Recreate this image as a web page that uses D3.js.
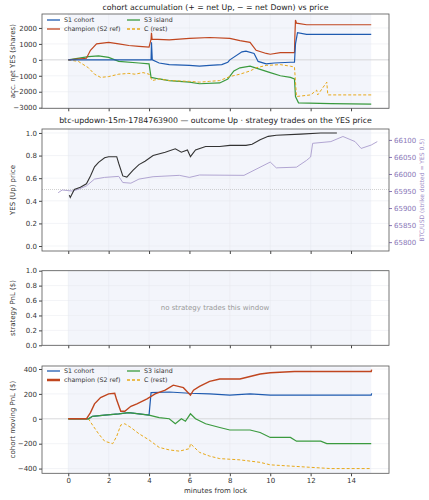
<!DOCTYPE html><html><head><meta charset="utf-8">
<script src="https://cdn.jsdelivr.net/npm/d3@7"></script>
<style>body{margin:0;background:#fff}text{font-family:"DejaVu Sans",sans-serif}</style></head><body>
<svg id="c" width="429" height="500"></svg>
<script>
const seriesNames=["S1 cohort","champion (S2 ref)","S3 island","C (rest)"];
const colors=["#1f5bb0","#c0461f","#3a9a3e","#e8a91a"];
// panel 1: accumulated net YES shares [t, value]
const accS1=[[0,0],[4.1,0],[4.12,1100],[4.16,0],[4.5,-200],[5,-300],[6,-350],[6.5,-400],[7,-350],[7.6,-300],[7.9,-150],[8,0],[8.6,500],[8.8,550],[9.2,400],[9.4,-100],[9.8,-250],[10.2,-200],[11,-150],[11.2,-150],[11.25,1000],[11.35,1700],[11.8,1600],[15,1600]];
const accChamp=[[0,0],[0.9,100],[1.1,600],[1.4,1000],[2,1100],[2.5,1000],[3,900],[3.5,850],[4,800],[4.1,1300],[4.12,1700],[4.15,1300],[5,1250],[6,1350],[7,1400],[8,1350],[8.5,1200],[9,1100],[9.3,600],[9.8,400],[10,350],[10.5,450],[11.2,450],[11.22,1500],[11.25,2500],[11.3,2300],[11.8,2200],[15,2200]];
const accS3=[[0,0],[1,200],[1.5,250],[2,150],[2.5,-100],[3.5,-200],[4,-250],[4.1,-1100],[4.5,-1200],[5,-1300],[6,-1400],[6.5,-1500],[7.5,-1450],[7.9,-1200],[8.2,-700],[8.5,-500],[9,-400],[9.5,-600],[10,-800],[10.5,-1000],[11,-1100],[11.2,-1200],[11.25,-2300],[11.4,-2700],[13,-2750],[15,-2780]];
const accC=[[0,0],[0.5,-100],[1,-500],[1.3,-900],[1.6,-1100],[2,-1050],[2.5,-900],[3,-850],[3.3,-900],[3.7,-800],[4,-900],[4.15,-1300],[4.5,-1200],[5,-1300],[6,-1350],[6.5,-1400],[7,-1350],[7.5,-1300],[8,-1050],[8.5,-900],[9,-700],[9.3,-500],[9.8,-350],[10.5,-300],[11,-400],[11.2,-450],[11.3,-2300],[12,-2200],[12.3,-1900],[12.35,-2200],[12.8,-1400],[12.85,-2200],[15,-2200]];
// panel 2
const yesPrice=[[0.05,0.45],[0.1,0.43],[0.3,0.5],[0.6,0.52],[0.9,0.55],[1.1,0.62],[1.3,0.7],[1.5,0.74],[1.8,0.78],[2.0,0.79],[2.4,0.79],[2.5,0.73],[2.7,0.62],[2.9,0.61],[3.2,0.67],[3.5,0.72],[3.8,0.75],[4.2,0.8],[4.8,0.83],[5.3,0.86],[5.6,0.83],[5.9,0.85],[6.05,0.79],[6.3,0.85],[6.8,0.88],[7.5,0.88],[8,0.89],[8.8,0.89],[9.1,0.9],[9.5,0.94],[9.9,0.97],[10.3,0.98],[11.5,0.99],[12.5,1.0],[13.3,1.0]];
const btcPrice=[[-0.5,65945],[-0.3,65953],[0.2,65950],[0.5,65955],[0.9,65965],[1.3,65985],[1.8,65990],[2.5,65993],[2.7,65975],[3.1,65973],[3.5,65985],[4.2,65992],[5.5,65996],[6,65990],[6.5,65997],[8.7,65996],[10,66035],[10.3,66018],[11.3,66020],[11.8,66040],[12.0,66050],[12.1,66090],[13,66095],[13.6,66110],[14.2,66095],[14.5,66075],[15,66085],[15.3,66095]];
const strikeYes=0.5;
// panel 4: moving PnL
const pnlS1=[[0,0],[1,0],[1.2,20],[1.8,30],[2.5,40],[3,50],[3.5,40],[4,30],[4.1,210],[5,215],[6,205],[7,200],[8,190],[9,200],[10,190],[15,190],[15.02,205]];
const pnlChamp=[[0,0],[0.9,0],[1.1,50],[1.3,120],[1.6,170],[2,200],[2.3,205],[2.4,150],[2.6,60],[2.8,60],[3.1,100],[3.4,120],[3.9,160],[4.3,200],[4.8,230],[5.2,270],[5.7,250],[6.05,190],[6.2,230],[6.5,260],[7,300],[7.5,320],[8.5,320],[9,340],[9.5,360],[10,370],[11.2,380],[15,380],[15.02,395]];
const pnlS3=[[0,0],[1,0],[1.2,20],[1.8,30],[2.5,40],[3,50],[3.5,40],[4,30],[4.5,10],[5,0],[5.3,-40],[5.6,0],[5.8,-20],[6.05,40],[6.3,0],[6.8,-40],[7.5,-70],[8,-90],[9,-90],[9.5,-110],[10,-150],[11,-150],[11.3,-180],[12.5,-180],[12.8,-200],[15,-200]];
const pnlC=[[0,0],[1,0],[1.2,-50],[1.5,-120],[1.8,-180],[2.2,-200],[2.4,-140],[2.6,-50],[2.8,-40],[3.1,-70],[3.5,-120],[4,-170],[4.5,-230],[5,-250],[5.5,-260],[6,-240],[6.05,-200],[6.5,-270],[7,-300],[7.5,-320],[8.5,-330],[9.5,-350],[10,-370],[11,-380],[12,-390],[13,-400],[15,-400]];
const xTicks=[0,2,4,6,8,10,12,14];

const svg=d3.select("#c");
const L=42,R=389;
const x=d3.scaleLinear().domain([-1.3,15.88]).range([L,R]);
function panel(top,bot,dom,ticks,fmt,label,showX){
  const y=d3.scaleLinear().domain(dom).range([bot,top]);
  const g=svg.append("g");
  g.append("rect").attr("x",L).attr("y",top).attr("width",R-L).attr("height",bot-top).attr("fill","#fff");
  g.append("rect").attr("x",x(0)).attr("y",top).attr("width",x(15)-x(0)).attr("height",bot-top).attr("fill","#f3f5fb");
  xTicks.forEach(t=>g.append("line").attr("x1",x(t)).attr("x2",x(t)).attr("y1",top).attr("y2",bot).attr("stroke","#e6e8ee").attr("stroke-width",0.5));
  ticks.forEach(t=>g.append("line").attr("x1",L).attr("x2",R).attr("y1",y(t)).attr("y2",y(t)).attr("stroke","#e6e8ee").attr("stroke-width",0.5));
  const ya=g.append("g").attr("transform",`translate(${L},0)`).call(d3.axisLeft(y).tickValues(ticks).tickFormat(fmt).tickSize(3).tickPadding(2));
  const xa=g.append("g").attr("transform",`translate(0,${bot})`).call(d3.axisBottom(x).tickValues(xTicks).tickSize(3).tickPadding(2).tickFormat(showX?d3.format("d"):""));
  [ya,xa].forEach(a=>{a.select(".domain").remove();a.selectAll("text").attr("font-size",7).attr("fill","#333");a.selectAll("line").attr("stroke","#444");});
  g.append("text").attr("transform",`translate(${L-27},${(top+bot)/2}) rotate(-90)`).attr("text-anchor","middle").attr("font-size",7).attr("fill","#333").text(label);
  return {g,y,top,bot};
}
function frame(p){p.g.append("rect").attr("x",L).attr("y",p.top).attr("width",R-L).attr("height",p.bot-p.top).attr("fill","none").attr("stroke","#555").attr("stroke-width",0.8);}
function drawLine(p,data,col,w,dash,yS){
  const ys=yS||p.y;
  p.g.append("path").datum(data).attr("d",d3.line().x(d=>x(d[0])).y(d=>ys(d[1]))).attr("fill","none").attr("stroke",col).attr("stroke-width",w).attr("stroke-dasharray",dash||null);
}
function legend(p,yoff,thick){
  const pos=[[L+5,p.top+yoff],[L+5,p.top+yoff+9],[L+85,p.top+yoff],[L+85,p.top+yoff+9]];
  seriesNames.forEach((n,i)=>{
    const [lx,ly]=pos[i];
    p.g.append("line").attr("x1",lx).attr("x2",lx+13).attr("y1",ly).attr("y2",ly).attr("stroke",colors[i]).attr("stroke-width",i==1?thick:1.3).attr("stroke-dasharray",i==3?"3,2":null);
    p.g.append("text").attr("x",lx+17).attr("y",ly+2.3).attr("font-size",6.3).attr("fill","#333").text(n);
  });
}
const title=(y,t)=>svg.append("text").attr("x",(L+R)/2).attr("y",y).attr("text-anchor","middle").attr("font-size",7.8).attr("fill","#222").text(t);

// panel 1
title(10,"cohort accumulation (+ = net Up, − = net Down) vs price");
const p1=panel(14,108.3,[-3040,2875],[-3000,-2000,-1000,0,1000,2000],d3.format("d"),"acc. net YES (shares)",false);
p1.g.append("line").attr("x1",L).attr("x2",R).attr("y1",p1.y(0)).attr("y2",p1.y(0)).attr("stroke","#ccc").attr("stroke-width",0.6);
drawLine(p1,accS3,colors[2],1.2);drawLine(p1,accC,colors[3],1,"3,2");drawLine(p1,accChamp,colors[1],1.2);drawLine(p1,accS1,colors[0],1.2);
legend(p1,6,1.3);frame(p1);

// panel 2
title(123,"btc-updown-15m-1784763900 — outcome Up · strategy trades on the YES price");
const p2=panel(129,251,[-0.044,1.035],[0,0.2,0.4,0.6,0.8,1.0],d3.format(".1f"),"YES (Up) price",false);
const yb=d3.scaleLinear().domain([65774,66132]).range([251,129]);
p2.g.append("line").attr("x1",L).attr("x2",R).attr("y1",p2.y(strikeYes)).attr("y2",p2.y(strikeYes)).attr("stroke","#bbb").attr("stroke-width",0.7).attr("stroke-dasharray","1,1");
p2.g.append("path").datum(btcPrice).attr("d",d3.line().x(d=>x(d[0])).y(d=>yb(d[1]))).attr("fill","none").attr("stroke","#a99ccd").attr("stroke-width",0.9);
drawLine(p2,yesPrice,"#333",1.1);
const ra=p2.g.append("g").attr("transform",`translate(${R},0)`).call(d3.axisRight(yb).tickValues([65800,65850,65900,65950,66000,66050,66100]).tickSize(3).tickPadding(2).tickFormat(d3.format("d")));
ra.select(".domain").remove();ra.selectAll("text").attr("font-size",7).attr("fill","#8a78b8");ra.selectAll("line").attr("stroke","#8a78b8");
p2.g.append("text").attr("transform",`translate(${R+35},190) rotate(-90)`).attr("text-anchor","middle").attr("font-size",6).attr("fill","#9a88c6").text("BTC/USD (strike dotted = YES 0.5)");
frame(p2);

// panel 3
const p3=panel(270.7,345.3,[0,1],[0,0.2,0.4,0.6,0.8,1.0],d3.format(".1f"),"strategy PnL ($)",false);
p3.g.append("text").attr("x",215).attr("y",310).attr("text-anchor","middle").attr("font-size",7).attr("fill","#999").text("no strategy trades this window");
frame(p3);

// panel 4
const p4=panel(366,473.3,[-438,424],[-400,-200,0,200,400],d3.format("d"),"cohort moving PnL ($)",true);
p4.g.append("line").attr("x1",L).attr("x2",R).attr("y1",p4.y(0)).attr("y2",p4.y(0)).attr("stroke","#ccc").attr("stroke-width",0.6);
drawLine(p4,pnlS1,colors[0],1.2);drawLine(p4,pnlC,colors[3],1,"3,2");drawLine(p4,pnlS3,colors[2],1.2);drawLine(p4,pnlChamp,colors[1],1.4);
legend(p4,5,2.5);frame(p4);
svg.append("text").attr("x",(L+R)/2).attr("y",493).attr("text-anchor","middle").attr("font-size",7).attr("fill","#333").text("minutes from lock");
</script></body></html>
